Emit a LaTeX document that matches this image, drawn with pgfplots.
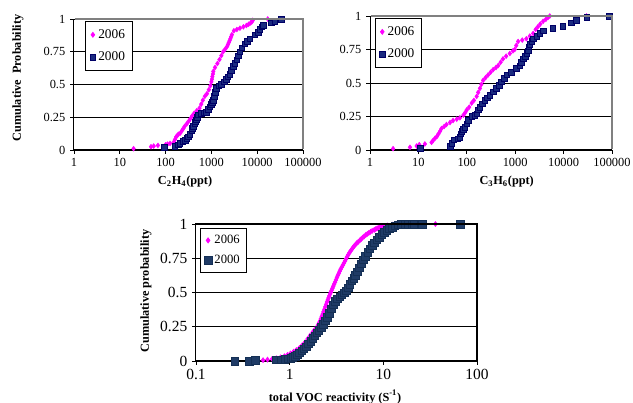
\documentclass[border=0pt]{standalone}
\usepackage{fontspec}
\setmainfont{Liberation Serif}
\usepackage{pgfplots}
\pgfplotsset{compat=1.18}
\definecolor{mag}{HTML}{FF00FF}
\definecolor{navyF}{HTML}{1A2A80}
\definecolor{navyD}{HTML}{000066}
\definecolor{slateF}{HTML}{1F3B66}
\definecolor{slateD}{HTML}{142F55}
\definecolor{frameG}{HTML}{808080}
\pgfplotsset{
  myax/.style={
    scale only axis, clip=false,
    ymin=0, ymax=1, ytick={0,0.25,0.5,0.75,1}, yticklabels={0,0.25,0.5,0.75,1},
    ymajorgrids, major grid style={black, line width=0.6pt},
    minor x tick num=0,
    tick align=outside, major tick length=3pt, tick style={black, line width=0.6pt},
    axis line style={black, line width=0.75pt},
    legend cell align=left,
  },
  m06/.style={only marks, mark=diamond*, mark size=1.8pt, color=mag, mark options={fill=mag, draw=mag}},
  m00/.style={only marks, mark=square*, mark size=2.1pt, mark options={fill=navyF, draw=navyD, line width=0.4pt}},
}
\begin{document}
\begin{tikzpicture}
\path[use as bounding box] (0,0) rectangle (474.75pt,302.25pt);
% ---------------- top left: C2H4 ----------------
\begin{axis}[myax, name=tl, xmode=log, log basis x=10,
  axis x line*=bottom, axis y line*=left,
  /pgf/number format/assume math mode=true,
  at={(55.5pt,189.75pt)}, anchor=south west,
  width=171.75pt, height=98.25pt,
  xmin=1, xmax=100000, xtick={1,10,100,1000,10000,100000},
  xticklabels={1,10,100,1000,10000,100000},
  tick label style={font=\fontsize{9.3}{10}\selectfont},
  xlabel={\textbf{C\textsubscript{2}H\textsubscript{4}(ppt)}},
  ylabel={\textbf{Cumulative\ \ Probability}},
  label style={font=\fontsize{9.2}{10}\selectfont},
  xlabel style={at={(axis description cs:0.485,-0.244)}, anchor=center},
  ylabel style={at={(axis description cs:-0.245,0.55)}, anchor=center},
  legend style={at={(0.048,0.985)}, anchor=north west, draw=black, line width=0.6pt,
    font=\fontsize{10}{11}\selectfont, row sep=4.5pt, inner xsep=3.5pt, inner ysep=4pt},
]
\addplot[m06] coordinates {
(20,0.01) (48,0.025) (55,0.03) (68,0.035) (100,0.04) (110,0.045) (125,0.05)
(150,0.06) (160,0.08) (170,0.10) (180,0.11) (190,0.12) (210,0.13) (230,0.15) (245,0.165) (260,0.18)
(290,0.20) (320,0.22) (350,0.24) (380,0.26) (420,0.28) (480,0.30) (550,0.32)
(600,0.35) (650,0.38) (720,0.41) (800,0.43) (880,0.46) (950,0.49) (1000,0.52)
(1030,0.54) (1050,0.56) (1080,0.58) (1100,0.60) (1200,0.63) (1350,0.66) (1500,0.69) (1650,0.72)
(1800,0.75) (2000,0.77) (2200,0.79) (2300,0.805) (2400,0.82) (2500,0.835) (2600,0.85) (2700,0.865) (2800,0.88)
(3100,0.91) (3600,0.92) (4200,0.93) (5000,0.94) (5800,0.95) (6500,0.96)
(7200,0.97) (7700,0.98) (8000,0.99) (17000,1.0)
};
\addlegendentry{2006}
\addplot[m00] coordinates {
(93,0.02) (160,0.03) (190,0.04) (205,0.05) (235,0.065) (265,0.075) (290,0.09)
(310,0.10) (340,0.12) (370,0.15) (385,0.165) (400,0.18) (430,0.20) (450,0.215) (470,0.23) (490,0.25) (510,0.27)
(600,0.28) (700,0.285) (780,0.29) (860,0.31) (930,0.33) (1000,0.35) (1050,0.365) (1100,0.38)
(1150,0.41) (1200,0.44) (1290,0.47) (1450,0.49) (1660,0.50) (1900,0.52)
(2140,0.54) (2300,0.56) (2500,0.58) (2750,0.61) (2980,0.64) (3250,0.66)
(3550,0.69) (3850,0.72) (4150,0.75) (4600,0.78) (5350,0.81) (6100,0.83)
(6900,0.85) (8900,0.88) (10500,0.90) (11400,0.92) (12500,0.94) (13400,0.95)
(20000,0.97) (24000,0.98) (34000,1.0)
};
\addlegendentry{2000}
\end{axis}
\draw[frameG, line width=1.2pt] ([xshift=0.5pt]tl.north west) -- (tl.north east) -- ([yshift=0.5pt]tl.south east);
% ---------------- top right: C3H6 ----------------
\begin{axis}[myax, name=tr, xmode=log, log basis x=10,
  axis x line*=bottom, axis y line*=left,
  /pgf/number format/assume math mode=true,
  at={(277.5pt,189.75pt)}, anchor=south west,
  width=181.5pt, height=100.5pt,
  xmin=1, xmax=100000, xtick={1,10,100,1000,10000,100000},
  xticklabels={1,10,100,1000,10000,100000},
  tick label style={font=\fontsize{9.3}{10}\selectfont},
  xlabel={\textbf{C\textsubscript{3}H\textsubscript{6}(ppt)}},
  label style={font=\fontsize{9.2}{10}\selectfont},
  xlabel style={at={(axis description cs:0.565,-0.239)}, anchor=center},
  legend style={at={(0.021,0.985)}, anchor=north west, draw=black, line width=0.6pt,
    font=\fontsize{10}{11}\selectfont, row sep=4.5pt, inner xsep=3pt, inner ysep=4pt},
]
\addplot[m06] coordinates {
(3,0.01) (6.7,0.02) (9.2,0.03) (10.4,0.04) (13.6,0.045) (18.7,0.057) (20,0.07)
(22,0.087) (24,0.10) (26,0.12) (28,0.14) (30,0.16) (34,0.175) (38,0.19) (45,0.205)
(52,0.22) (62,0.23) (72,0.24) (85,0.26) (93,0.28) (100,0.30) (112,0.32)
(126,0.35) (140,0.37) (160,0.40) (172,0.43) (187,0.46) (200,0.49) (218,0.52)
(245,0.54) (275,0.56) (310,0.58) (350,0.60) (400,0.615) (445,0.63) (500,0.655)
(560,0.68) (650,0.70) (775,0.72) (900,0.74) (980,0.75) (1050,0.78) (1150,0.81)
(1400,0.82) (1700,0.83) (2000,0.85) (2350,0.87) (2650,0.90) (2950,0.92)
(3300,0.94) (3770,0.96) (4300,0.975) (4800,0.99) (5200,1.0) (29800,1.0)
};
\addlegendentry{2006}
\addplot[m00] coordinates {
(10.8,0.012) (45,0.03) (49,0.05) (54,0.075) (65,0.085) (72,0.095) (75,0.12)
(78,0.14) (85,0.155) (91,0.17) (100,0.195) (107,0.22) (126,0.25) (145,0.26)
(160,0.27) (175,0.30) (187,0.32) (210,0.345) (235,0.37) (265,0.39) (300,0.41)
(350,0.435) (410,0.46) (470,0.485) (520,0.51) (590,0.535) (665,0.56) (835,0.58)
(1065,0.61) (1240,0.63) (1350,0.655) (1450,0.68) (1600,0.70) (1750,0.72)
(1850,0.74) (1920,0.77) (2000,0.79) (2200,0.81) (2350,0.83) (2800,0.85)
(3200,0.87) (3770,0.89) (6000,0.91) (9700,0.925) (14500,0.95) (18300,0.97)
(30000,0.99) (89000,1.0)
};
\addlegendentry{2000}
\end{axis}
\draw[frameG, line width=1.2pt] ([xshift=0.5pt]tr.north west) -- (tr.north east) -- ([yshift=0.5pt]tr.south east);
% ---------------- bottom: total VOC reactivity ----------------
\begin{axis}[myax, name=bt, xmode=log, log basis x=10,
  /pgf/number format/assume math mode=true,
  at={(147pt,31.5pt)}, anchor=south west,
  width=210.75pt, height=102.75pt,
  xmin=0.1, xmax=100, xtick={0.1,1,10,100}, xticklabels={0.1,1,10,100},
  tick label style={font=\fontsize{11.6}{12}\selectfont},
  xlabel={\textbf{total VOC reactivity (S\textsuperscript{-1})}},
  ylabel={\textbf{Cumulative probability}},
  label style={font=\fontsize{9.2}{10}\selectfont},
  xlabel style={at={(axis description cs:0.495,-0.263)}, anchor=center},
  ylabel style={at={(axis description cs:-0.178,0.51)}, anchor=center},
  xtick pos=bottom, ytick pos=left,
  legend style={at={(0.014,0.97)}, anchor=north west, draw=black, line width=0.6pt,
    font=\fontsize{9.5}{10}\selectfont, row sep=3pt, inner xsep=3pt, inner ysep=3pt},
]
\addplot[m06, mark size=1.9pt] coordinates {
(0.46,0.003) (0.52,0.006) (0.58,0.01) (0.65,0.015) (0.72,0.02) (0.80,0.027)
(0.88,0.035) (0.95,0.045) (1.02,0.055) (1.1,0.068) (1.18,0.08) (1.27,0.095)
(1.36,0.115) (1.45,0.135) (1.55,0.16) (1.65,0.185) (1.76,0.21) (1.88,0.235)
(2.0,0.26) (2.05,0.275) (2.1,0.29) (2.15,0.307) (2.2,0.325) (2.25,0.342) (2.3,0.36) (2.35,0.377) (2.4,0.395) (2.45,0.412) (2.5,0.43) (2.55,0.445) (2.6,0.46)
(2.65,0.475) (2.7,0.49) (2.75,0.502) (2.8,0.515) (2.86,0.53) (2.92,0.545) (2.98,0.56) (3.05,0.575) (3.12,0.592) (3.2,0.61) (3.27,0.625) (3.35,0.64)
(3.42,0.655) (3.5,0.67) (3.6,0.685) (3.7,0.7) (3.8,0.715) (3.9,0.73) (4.0,0.745) (4.1,0.76) (4.22,0.775) (4.35,0.79) (4.47,0.803) (4.6,0.815) (4.75,0.828) (4.9,0.84)
(5.05,0.85) (5.2,0.86) (5.4,0.87) (5.6,0.88) (5.8,0.89) (6.0,0.9) (6.25,0.91) (6.5,0.92) (6.75,0.928) (7.0,0.935) (7.3,0.943) (7.6,0.95) (8.0,0.957) (8.3,0.963)
(8.6,0.969) (9.0,0.975) (9.5,0.98) (10.0,0.985) (11.0,0.99) (12.5,0.995) (14,0.998) (16,1) (18,1)
(27,1) (36,1)
};
\addlegendentry{2006}
\addplot[only marks, mark=square*, mark size=2.8pt, mark options={fill=slateF, draw=slateD, line width=0.3pt}] coordinates {
(0.26,0) (0.37,0) (0.43,0.005) (0.72,0.008) (0.80,0.01) (0.88,0.012) (0.95,0.015)
(1.02,0.02) (1.08,0.027) (1.14,0.035) (1.2,0.045) (1.27,0.06) (1.34,0.075)
(1.42,0.09) (1.5,0.105) (1.58,0.125) (1.67,0.145) (1.76,0.165) (1.85,0.185)
(1.95,0.205) (2.05,0.225) (2.16,0.245) (2.28,0.27) (2.4,0.295) (2.52,0.32)
(2.65,0.35) (2.78,0.38) (2.92,0.41) (3.06,0.435) (3.22,0.455) (3.4,0.47)
(3.6,0.485) (3.8,0.5) (4.0,0.515) (4.2,0.535) (4.4,0.56) (4.6,0.585) (4.8,0.605)
(5.0,0.625) (5.25,0.65) (5.5,0.68) (5.8,0.71) (6.1,0.74) (6.4,0.765) (6.8,0.795)
(7.2,0.82) (7.6,0.845) (8.0,0.865) (8.5,0.885) (9.0,0.905) (9.6,0.925)
(10.2,0.94) (10.9,0.955) (11.6,0.968) (12.4,0.978) (13.3,0.987) (14.3,0.993)
(15.5,0.997) (17,1) (18.5,1) (20,1) (21,1) (26,1) (66,1)
};
\addlegendentry{2000}
\end{axis}
\draw[black, line width=1pt] (bt.south east) -- (bt.north east) -- (bt.north west);
\end{tikzpicture}
\end{document}
